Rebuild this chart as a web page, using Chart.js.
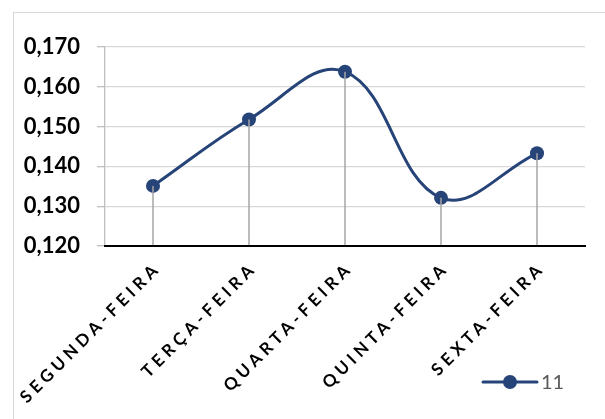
<!DOCTYPE html>
<html>
<head>
<meta charset="utf-8">
<script src="https://cdn.jsdelivr.net/npm/chart.js@4.4.1/dist/chart.umd.min.js"></script>
<style>
  html, body { margin: 0; padding: 0; background: #fff; overflow: hidden; }
  #wrap { position: relative; width: 605px; height: 419px; }
  #frame { position: absolute; left: 13px; top: 12px; width: 640px; height: 460px;
           border: 1px solid #d9d9d9; box-sizing: border-box; }
  #c { position: absolute; left: 0; top: 0; }
</style>
</head>
<body>
<div id="wrap">
  <div id="frame"></div>
  <canvas id="c" width="605" height="419"></canvas>
</div>
<script>
// Weekday categories and the single series plotted against them
const days = ['SEGUNDA-FEIRA', 'TERÇA-FEIRA', 'QUARTA-FEIRA', 'QUINTA-FEIRA', 'SEXTA-FEIRA'];
const seriesName = '11';
const values = [0.1351, 0.1518, 0.1638, 0.1321, 0.1433];
const yTickLabels = ['0,120', '0,130', '0,140', '0,150', '0,160', '0,170'];

const LINE_BLUE = '#264478';

// Gray stems from each point down to the baseline
const dropLines = {
  id: 'dropLines',
  afterDatasetsDraw(chart) {
    const { ctx, chartArea } = chart;
    const meta = chart.getDatasetMeta(0);
    ctx.save();
    ctx.strokeStyle = '#a6a6a6';
    ctx.lineWidth = 1.5;
    meta.data.forEach(pt => {
      ctx.beginPath();
      ctx.moveTo(pt.x, pt.y);
      ctx.lineTo(pt.x, chartArea.bottom);
      ctx.stroke();
    });
    ctx.restore();
  }
};

// Letter-spaced category labels
const spacedLabels = {
  id: 'spacedLabels',
  beforeDraw(chart) {
    const sc = chart.scales.x;
    if (sc && !sc._spaced) {
      const orig = sc.drawLabels.bind(sc);
      sc.drawLabels = function (area) {
        const ctx = this.ctx;
        ctx.save();
        ctx.letterSpacing = '4.3px';
        orig(area);
        ctx.restore();
      };
      sc._spaced = true;
    }
  }
};

// Line-and-marker legend entry in the lower right
const cornerLegend = {
  id: 'cornerLegend',
  afterDraw(chart) {
    const { ctx } = chart;
    const ds = chart.data.datasets[0];
    const x0 = chart.width - 122, y = chart.height - 37;
    ctx.save();
    ctx.strokeStyle = LINE_BLUE;
    ctx.lineWidth = 3;
    ctx.lineCap = 'round';
    ctx.beginPath();
    ctx.moveTo(x0, y);
    ctx.lineTo(x0 + 54, y);
    ctx.stroke();
    ctx.fillStyle = LINE_BLUE;
    ctx.beginPath();
    ctx.arc(x0 + 27, y, 7, 0, Math.PI * 2);
    ctx.fill();
    ctx.fillStyle = '#595959';
    ctx.font = '20px Lato, "Open Sans", sans-serif';
    ctx.textBaseline = 'middle';
    ctx.textAlign = 'left';
    ctx.fillText(ds.label, x0 + 58, y + 1);
    ctx.restore();
  }
};

new Chart(document.getElementById('c'), {
  type: 'line',
  data: {
    labels: days,
    datasets: [{
      label: seriesName,
      data: values,
      borderColor: LINE_BLUE,
      backgroundColor: LINE_BLUE,
      borderWidth: 3,
      tension: 0.4,
      pointRadius: 7,
      pointBackgroundColor: LINE_BLUE,
      pointBorderWidth: 0,
      fill: false
    }]
  },
  options: {
    responsive: false,
    animation: false,
    devicePixelRatio: 1,
    layout: { padding: { top: 47, right: 20, left: 0, bottom: 0 } },
    plugins: {
      legend: { display: false },
      tooltip: { enabled: false }
    },
    scales: {
      x: {
        offset: true,
        grid: { display: false, drawTicks: false },
        border: { display: true, color: '#000000', width: 2, z: 1 },
        ticks: {
          minRotation: 45,
          maxRotation: 45,
          autoSkip: false,
          padding: 12,
          labelOffset: 5,
          color: '#000000',
          font: { family: 'Lato, "Open Sans", sans-serif', size: 17, weight: 'bold' }
        },
        afterFit(scale) { scale.height = 173; }
      },
      y: {
        min: 0.12,
        max: 0.17,
        grid: {
          color: '#d9d9d9',
          lineWidth: 1.3,
          tickColor: '#bfbfbf',
          tickLength: 8,
          drawTicks: true
        },
        border: { display: true, color: '#bfbfbf', width: 1.3 },
        ticks: {
          stepSize: 0.01,
          padding: 17,
          color: '#000000',
          font: { family: 'Lato, "Open Sans", sans-serif', size: 22, weight: 'bold' },
          callback: (v, i) => yTickLabels[i]
        },
        afterFit(scale) { scale.width = 105; }
      }
    }
  },
  plugins: [dropLines, spacedLabels, cornerLegend]
});
</script>
</body>
</html>
